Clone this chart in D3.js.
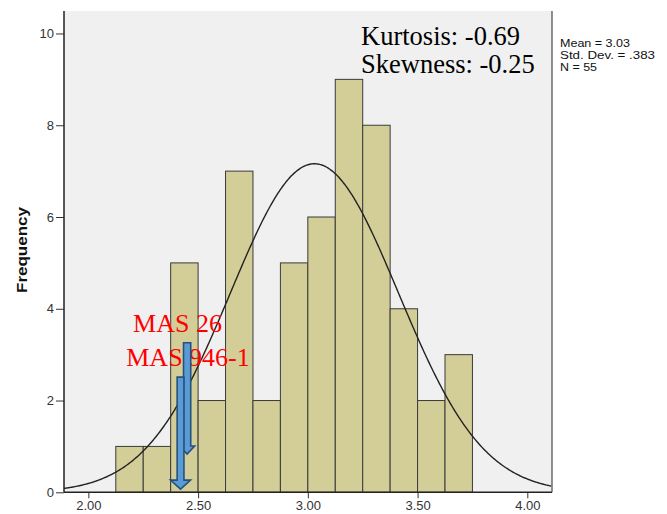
<!DOCTYPE html>
<html><head><meta charset="utf-8">
<script src="https://cdn.jsdelivr.net/npm/d3@7/dist/d3.min.js"></script>
<style>html,body{margin:0;padding:0;background:#fff;}svg{display:block;}</style>
</head><body>
<svg id="c" width="667" height="514"></svg>
<script>
// ---- data ----
const binStarts = [2.125, 2.25, 2.375, 2.5, 2.625, 2.75, 2.875, 3.0, 3.125, 3.25, 3.375, 3.5, 3.625];
const binWidth = 0.125;
const counts = [1, 1, 5, 2, 7, 2, 5, 6, 9, 8, 4, 2, 3];
const xTicks = [2.0, 2.5, 3.0, 3.5, 4.0];
const yTicks = [0, 2, 4, 6, 8, 10];
const mean = 3.03, sd = 0.383, nObs = 55;
const statLines = ["Mean = 3.03", "Std. Dev. = .383", "N = 55"];
const momentLines = ["Kurtosis: -0.69", "Skewness: -0.25"];
// annotation arrows: x value, top freq, tip freq
const arrowX = [2.45, 2.42];
const arrowTop = [3.26, 2.51];
const arrowTip = [0.835, 0.07];
const labelText = ["MAS 26", "MAS 946-1"];
const labelX = [2.406, 2.454];
const labelY = [3.49, 2.75];

// ---- layout ----
const L = 64, R = 552, T = 11, B = 492.3;
const svg = d3.select("#c");
const x = d3.scaleLinear().domain([1.889, 4.1125]).range([L, R]);
const y = d3.scaleLinear().domain([0, 10.49]).range([B, T]);

svg.append("rect").attr("x", L).attr("y", T).attr("width", R - L).attr("height", B - T).attr("fill", "#f0f0f0");

// bars
svg.append("g").selectAll("rect").data(counts).join("rect")
  .attr("x", (d, i) => x(binStarts[i]))
  .attr("width", (d, i) => x(binStarts[i] + binWidth) - x(binStarts[i]))
  .attr("y", d => y(d))
  .attr("height", d => y(0) - y(d))
  .attr("fill", "#d3cd97")
  .attr("stroke", "#3a3a3a")
  .attr("stroke-width", 1);

// normal curve
const dens = v => nObs * binWidth / (sd * Math.sqrt(2 * Math.PI)) * Math.exp(-0.5 * ((v - mean) / sd) ** 2);
const xs = d3.range(x.domain()[0], x.domain()[1] + 0.001, 0.005);
svg.append("path").datum(xs)
  .attr("d", d3.line().x(v => x(v)).y(v => y(dens(v))).curve(d3.curveBasis))
  .attr("fill", "none").attr("stroke", "#222").attr("stroke-width", 1.4);

// axes
const yAxis = d3.axisLeft(y).tickValues(yTicks).tickFormat(d3.format("d")).tickSize(8).tickPadding(2);
const gy = svg.append("g").attr("transform", `translate(${L},0)`).call(yAxis);
gy.select(".domain").remove();
gy.selectAll("line").attr("stroke", "#333");
gy.selectAll("text").attr("font-family", "Arial, 'Liberation Sans', sans-serif").attr("font-size", 13).attr("fill", "#333");

const xAxis = d3.axisBottom(x).tickValues(xTicks).tickFormat(d3.format(".2f")).tickSize(6).tickPadding(2);
const gx = svg.append("g").attr("transform", `translate(0,${B})`).call(xAxis);
gx.select(".domain").remove();
gx.selectAll("line").attr("stroke", "#333");
gx.selectAll("text").attr("font-family", "Arial, 'Liberation Sans', sans-serif").attr("font-size", 13).attr("fill", "#333").attr("dy", "0.75em");

svg.append("line").attr("x1", L).attr("x2", L).attr("y1", T).attr("y2", B).attr("stroke", "#222").attr("stroke-width", 1.5);
svg.append("line").attr("x1", L).attr("x2", R).attr("y1", B).attr("y2", B).attr("stroke", "#222").attr("stroke-width", 1.5);
svg.append("line").attr("x1", R).attr("x2", R).attr("y1", T).attr("y2", B).attr("stroke", "#555").attr("stroke-width", 1.3);

// y title
svg.append("text").attr("transform", "translate(27,250) rotate(-90)")
  .attr("text-anchor", "middle").attr("font-family", "Arial, 'Liberation Sans', sans-serif")
  .attr("font-weight", "bold").attr("font-size", 14).attr("fill", "#111")
  .attr("textLength", 86).attr("lengthAdjust", "spacingAndGlyphs")
  .text("Frequency");

// stats
const statLen = [70, 95, 37];
svg.append("g").selectAll("text").data(statLines).join("text")
  .attr("x", 560).attr("y", (d, i) => 47.3 + i * 11.7)
  .attr("font-family", "Arial, 'Liberation Sans', sans-serif").attr("font-size", 10.5).attr("fill", "#111")
  .attr("textLength", (d, i) => statLen[i]).attr("lengthAdjust", "spacingAndGlyphs")
  .text(d => d);

// kurtosis / skewness
svg.append("g").selectAll("text").data(momentLines).join("text")
  .attr("x", 361).attr("y", (d, i) => 45 + i * 28.3)
  .attr("font-family", "'Times New Roman', 'Liberation Serif', serif").attr("font-size", 26.5).attr("fill", "#000")
  .text(d => d);

// red labels
svg.append("g").selectAll("text").data(labelText).join("text")
  .attr("x", (d, i) => x(labelX[i])).attr("y", (d, i) => y(labelY[i]))
  .attr("text-anchor", "middle")
  .attr("font-family", "'Times New Roman', 'Liberation Serif', serif").attr("font-size", 26).attr("fill", "#ff0000")
  .text(d => d);

// arrows
const shaftHW = [3.6, 3.4], headHW = [7.5, 10], headLen = [8, 9];
svg.append("g").selectAll("path").data(arrowX).join("path")
  .attr("d", (d, i) => {
    const cx = x(d), t = y(arrowTop[i]), b = y(arrowTip[i]);
    const s = shaftHW[i], h = headHW[i], hl = headLen[i];
    return `M${cx - s},${t}L${cx + s},${t}L${cx + s},${b - hl}L${cx + h},${b - hl}L${cx},${b}L${cx - h},${b - hl}L${cx - s},${b - hl}Z`;
  })
  .attr("fill", "#5b9bd5").attr("stroke", "#24527e").attr("stroke-width", 1.6);
</script>
</body></html>
